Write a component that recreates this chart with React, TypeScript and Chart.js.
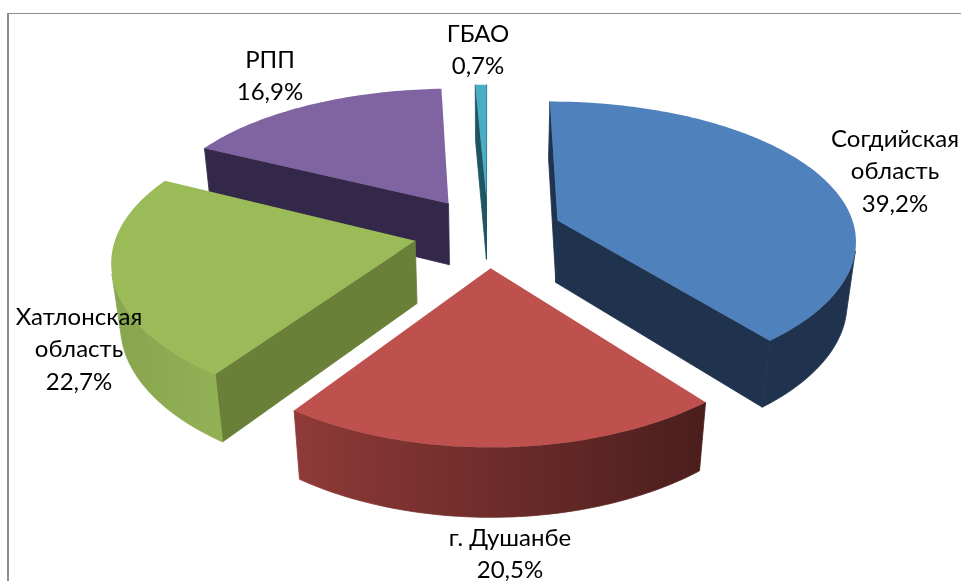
import React, { useEffect, useRef } from "react";
import { Chart, registerables } from "chart.js";

Chart.register(...registerables);

const categories = ["Согдийская область", "г. Душанбе", "Хатлонская область", "РПП", "ГБАО"];
const shares = [39.2, 20.5, 22.7, 16.9, 0.7];

const topColors = ["#4F81BD", "#BE504D", "#9BBB59", "#8064A2", "#4BACC6"];
const wallColors = ["#1F334F", "#7A2F2D", "#6A8039", "#33284A", "#1E5563"];
const rimFrom = ["#1F334F", "#4A1E1C", "#92B054", "#33284A", "#1E5563"];
const rimTo = ["#1F334F", "#8F3A38", "#7F9A4A", "#33284A", "#1E5563"];

const VIEW = { cx: 488, cy: 232, radius: 298, tilt: 140, perspX: 0.125, perspY: 0.15, height: 64, shrink: 0.025, explode: 0.25 };
const LABEL_POS = [
  { x: 895, y: 139 },
  { x: 510, y: 538 },
  { x: 79, y: 317 },
  { x: 270, y: 60 },
  { x: 478, y: 34 },
];
const FONT = '24px Lato, "Open Sans", sans-serif';

type Pt = { x: number; y: number };

function project(u: number, v: number, h: number): Pt {
  const dx = 1 - VIEW.perspX * v + VIEW.shrink * h;
  const dy = 1 - VIEW.perspY * v + VIEW.shrink * h;
  return { x: VIEW.cx + (VIEW.radius * u) / dx, y: VIEW.cy + (VIEW.tilt * v + VIEW.height * h) / dy };
}

function hexRgb(hex: string) {
  const n = parseInt(hex.slice(1), 16);
  return [(n >> 16) & 255, (n >> 8) & 255, n & 255];
}
function mix(a: string, b: string, t: number) {
  const x = hexRgb(a);
  const y = hexRgb(b);
  return `rgb(${x.map((c, i) => Math.round(c + (y[i] - c) * t)).join(",")})`;
}

function signedArea(p: Pt[]) {
  let area = 0;
  p.forEach((a, i) => {
    const b = p[(i + 1) % p.length];
    area += a.x * b.y - b.x * a.y;
  });
  return area;
}

function fillPoly(ctx: CanvasRenderingContext2D, p: Pt[], color: any, seal = false) {
  ctx.beginPath();
  p.forEach((a, i) => (i ? ctx.lineTo(a.x, a.y) : ctx.moveTo(a.x, a.y)));
  ctx.closePath();
  ctx.fillStyle = color;
  ctx.fill();
  if (seal) {
    ctx.strokeStyle = color;
    ctx.lineWidth = 0.8;
    ctx.stroke();
  }
}

const pie3d = {
  id: "pie3d",
  beforeDatasetDraw(chart: any) {
    const ctx: CanvasRenderingContext2D = chart.ctx;
    const arcs = chart.getDatasetMeta(0).data;
    const slices = arcs.map((arc: any, i: number) => {
      const a0 = arc.startAngle + Math.PI / 2;
      const a1 = arc.endAngle + Math.PI / 2;
      const mid = (a0 + a1) / 2;
      return { i, a0, a1, ou: VIEW.explode * Math.sin(mid), ov: -VIEW.explode * Math.cos(mid) };
    });
    const order = [...slices].sort((s, t) => s.ov - t.ov);
    for (const s of order) {
      const steps = Math.max(4, Math.ceil((s.a1 - s.a0) / 0.02));
      const rim: { u: number; v: number; t: number }[] = [];
      for (let k = 0; k <= steps; k++) {
        const t = k / steps;
        const a = s.a0 + (s.a1 - s.a0) * t;
        rim.push({ u: s.ou + Math.sin(a), v: s.ov - Math.cos(a), t });
      }
      const apex = { u: s.ou, v: s.ov };
      const P = (q: { u: number; v: number }, h: number) => project(q.u, q.v, h);
      const first = rim[0];
      const last = rim[rim.length - 1];
      const wallA = [P(apex, 0), P(first, 0), P(first, 1), P(apex, 1)];
      const wallB = [P(last, 0), P(apex, 0), P(apex, 1), P(last, 1)];
      if (signedArea(wallA) < 0) fillPoly(ctx, wallA, wallColors[s.i], true);
      if (signedArea(wallB) < 0) fillPoly(ctx, wallB, wallColors[s.i], true);
      const visible = [];
      for (let k = 0; k < rim.length - 1; k++) {
        const a = rim[k];
        const b = rim[k + 1];
        if (signedArea([P(a, 0), P(b, 0), P(b, 1), P(a, 1)]) < 0) visible.push(a, b);
      }
      if (visible.length) {
        const start = visible[0];
        const end = visible[visible.length - 1];
        const grad = ctx.createLinearGradient(P(start, 0).x, 0, P(end, 0).x, 0);
        grad.addColorStop(0, mix(rimFrom[s.i], rimTo[s.i], start.t));
        grad.addColorStop(1, mix(rimFrom[s.i], rimTo[s.i], end.t));
        const poly = [...visible.map((q) => P(q, 0)), ...[...visible].reverse().map((q) => P(q, 1))];
        fillPoly(ctx, poly, grad, true);
      }
      fillPoly(ctx, [P(apex, 0), ...rim.map((q) => P(q, 0))], topColors[s.i]);
    }
    return false;
  },
  afterDraw(chart: any) {
    const ctx: CanvasRenderingContext2D = chart.ctx;
    ctx.save();
    ctx.font = FONT;
    ctx.fillStyle = "#000";
    ctx.textAlign = "center";
    ctx.textBaseline = "middle";
    categories.forEach((name, i) => {
      const lines = name.startsWith("г.") ? [name] : name.split(" ");
      lines.push(shares[i].toFixed(1).replace(".", ",") + "%");
      lines.forEach((line, k) => ctx.fillText(line, LABEL_POS[i].x, LABEL_POS[i].y + k * 32.5));
    });
    ctx.restore();
  },
};

export default function App() {
  const ref = useRef<HTMLCanvasElement>(null);
  useEffect(() => {
    document.body.style.margin = "0";
    document.body.style.background = "#fff";
    const chart = new Chart(ref.current!, {
      type: "pie",
      data: {
        labels: categories,
        datasets: [{ data: shares, backgroundColor: topColors, borderWidth: 0 }],
      },
      options: {
        animation: false,
        responsive: false,
        plugins: { legend: { display: false }, tooltip: { enabled: false } },
      },
      plugins: [pie3d],
    } as any);
    return () => chart.destroy();
  }, []);
  return (
    <div style={{ position: "relative", width: 961, height: 581, overflow: "hidden", background: "#fff" }}>
      <div
        style={{
          position: "absolute",
          left: 7,
          top: 13,
          width: 980,
          height: 600,
          borderLeft: "2px solid #8c8c8c",
          borderTop: "1px solid #8c8c8c",
        }}
      />
      <canvas ref={ref} width={961} height={581} style={{ position: "absolute", left: 0, top: 0 }} />
    </div>
  );
}
